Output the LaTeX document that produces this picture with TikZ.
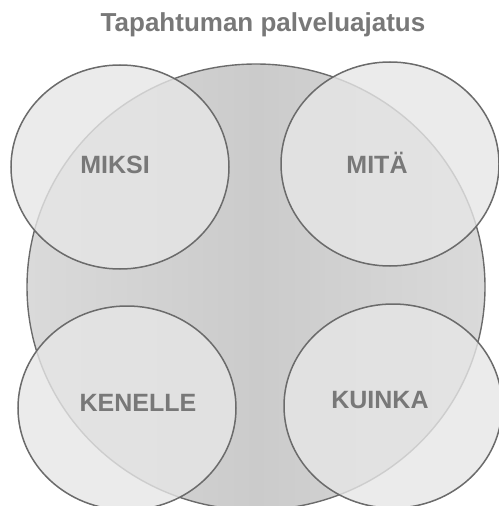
\documentclass[tikz,border=0pt]{standalone}
\usepackage{fontspec}
\setmainfont{Liberation Sans}
\usetikzlibrary{shapes.geometric}
\definecolor{edge}{HTML}{6B6B6B}
\definecolor{txt}{HTML}{787878}
\definecolor{bigside}{HTML}{DADADA}
\definecolor{bigmid}{HTML}{CBCBCB}
\definecolor{smallc}{HTML}{E6E6E6}
\tikzset{
  bigcirc/.style={ellipse, draw=edge, line width=1.4bp, left color=bigside, right color=bigside, middle color=bigmid, minimum width=458bp, minimum height=446bp, inner sep=0pt, outer sep=0pt},
  smallcirc/.style={ellipse, draw=edge, line width=1.5bp, fill=smallc, fill opacity=0.8, minimum width=218bp, minimum height=204bp, inner sep=0pt, outer sep=0pt},
  lbl/.style={font=\bfseries\fontsize{25bp}{28bp}\selectfont, text=txt, inner sep=0pt},
  ttl/.style={font=\bfseries\fontsize{26bp}{30bp}\selectfont, text=txt, inner sep=0pt}
}
\begin{document}
\begin{tikzpicture}[x=1bp,y=-1bp]
\useasboundingbox (0,0) rectangle (499,506);
\node[bigcirc] (big) at (256,287) {};
\node[smallcirc] (c1) at (120,167) {};
\node[smallcirc] (c2) at (390,164) {};
\node[smallcirc] (c3) at (127,408) {};
\node[smallcirc] (c4) at (393,406) {};
\node[lbl] (miksi) at (115,165) {MIKSI};
\node[lbl] (mita) at (377,163) {MITÄ};
\node[lbl] (kenelle) at (138,403) {KENELLE};
\node[lbl] (kuinka) at (380,400) {KUINKA};
\node[ttl] (title) at (263,25) {Tapahtuman palveluajatus};
\end{tikzpicture}
\end{document}
